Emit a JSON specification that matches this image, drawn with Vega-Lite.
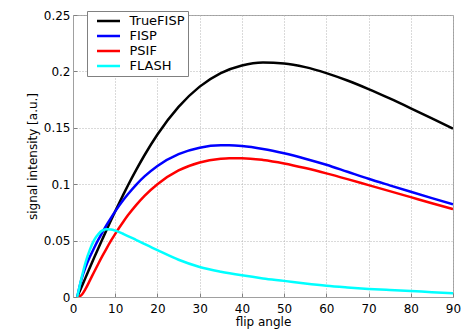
{
  "$schema": "https://vega.github.io/schema/vega-lite/v6.json",
  "width": 380,
  "height": 282,
  "autosize": "none",
  "padding": {"left": 73, "top": 15, "right": 21, "bottom": 34},
  "background": "white",
  "config": {
    "view": {"stroke": "#a0a0a0", "strokeWidth": 1},
    "font": "DejaVu Sans",
    "axis": {
      "labelFont": "DejaVu Sans",
      "labelFontSize": 12,
      "labelColor": "#000000",
      "titleFont": "DejaVu Sans",
      "titleFontSize": 12,
      "titleFontWeight": "normal",
      "titleColor": "#000000",
      "domainColor": "#a0a0a0",
      "gridColor": "#b4b4b4",
      "gridDash": [1, 2],
      "gridWidth": 1,
      "ticks": true,
      "tickSize": -4,
      "tickColor": "#808080",
      "labelFlush": false
    }
  },
  "data": {
    "values": [
      {"angle": 1, "signal": 0, "seq": "TrueFISP"},
      {"angle": 2, "signal": 0.0087, "seq": "TrueFISP"},
      {"angle": 3, "signal": 0.0174, "seq": "TrueFISP"},
      {"angle": 4, "signal": 0.0261, "seq": "TrueFISP"},
      {"angle": 5, "signal": 0.0347, "seq": "TrueFISP"},
      {"angle": 6, "signal": 0.0432, "seq": "TrueFISP"},
      {"angle": 7, "signal": 0.0516, "seq": "TrueFISP"},
      {"angle": 8, "signal": 0.0599, "seq": "TrueFISP"},
      {"angle": 9, "signal": 0.0680, "seq": "TrueFISP"},
      {"angle": 10, "signal": 0.0760, "seq": "TrueFISP"},
      {"angle": 11, "signal": 0.0838, "seq": "TrueFISP"},
      {"angle": 12, "signal": 0.0914, "seq": "TrueFISP"},
      {"angle": 13, "signal": 0.0988, "seq": "TrueFISP"},
      {"angle": 15, "signal": 0.1129, "seq": "TrueFISP"},
      {"angle": 17, "signal": 0.1261, "seq": "TrueFISP"},
      {"angle": 20, "signal": 0.1440, "seq": "TrueFISP"},
      {"angle": 25, "signal": 0.1685, "seq": "TrueFISP"},
      {"angle": 30, "signal": 0.1865, "seq": "TrueFISP"},
      {"angle": 35, "signal": 0.1985, "seq": "TrueFISP"},
      {"angle": 40, "signal": 0.2053, "seq": "TrueFISP"},
      {"angle": 45, "signal": 0.2079, "seq": "TrueFISP"},
      {"angle": 50, "signal": 0.2071, "seq": "TrueFISP"},
      {"angle": 55, "signal": 0.2038, "seq": "TrueFISP"},
      {"angle": 60, "signal": 0.1985, "seq": "TrueFISP"},
      {"angle": 65, "signal": 0.1919, "seq": "TrueFISP"},
      {"angle": 70, "signal": 0.1843, "seq": "TrueFISP"},
      {"angle": 75, "signal": 0.1760, "seq": "TrueFISP"},
      {"angle": 80, "signal": 0.1673, "seq": "TrueFISP"},
      {"angle": 85, "signal": 0.1584, "seq": "TrueFISP"},
      {"angle": 90, "signal": 0.1493, "seq": "TrueFISP"},

      {"angle": 1, "signal": 0, "seq": "FISP"},
      {"angle": 2, "signal": 0.0157, "seq": "FISP"},
      {"angle": 3, "signal": 0.0267, "seq": "FISP"},
      {"angle": 4, "signal": 0.0356, "seq": "FISP"},
      {"angle": 5, "signal": 0.0435, "seq": "FISP"},
      {"angle": 6, "signal": 0.0508, "seq": "FISP"},
      {"angle": 7, "signal": 0.0576, "seq": "FISP"},
      {"angle": 8, "signal": 0.0641, "seq": "FISP"},
      {"angle": 9, "signal": 0.0702, "seq": "FISP"},
      {"angle": 10, "signal": 0.0759, "seq": "FISP"},
      {"angle": 12, "signal": 0.0864, "seq": "FISP"},
      {"angle": 13, "signal": 0.0911, "seq": "FISP"},
      {"angle": 15, "signal": 0.0997, "seq": "FISP"},
      {"angle": 17, "signal": 0.1071, "seq": "FISP"},
      {"angle": 20, "signal": 0.1162, "seq": "FISP"},
      {"angle": 25, "signal": 0.1267, "seq": "FISP"},
      {"angle": 30, "signal": 0.1324, "seq": "FISP"},
      {"angle": 35, "signal": 0.1345, "seq": "FISP"},
      {"angle": 37, "signal": 0.1345, "seq": "FISP"},
      {"angle": 40, "signal": 0.1339, "seq": "FISP"},
      {"angle": 45, "signal": 0.1313, "seq": "FISP"},
      {"angle": 50, "signal": 0.1274, "seq": "FISP"},
      {"angle": 55, "signal": 0.1226, "seq": "FISP"},
      {"angle": 60, "signal": 0.1172, "seq": "FISP"},
      {"angle": 65, "signal": 0.1110, "seq": "FISP"},
      {"angle": 70, "signal": 0.1048, "seq": "FISP"},
      {"angle": 75, "signal": 0.0990, "seq": "FISP"},
      {"angle": 80, "signal": 0.0933, "seq": "FISP"},
      {"angle": 85, "signal": 0.0877, "seq": "FISP"},
      {"angle": 90, "signal": 0.0822, "seq": "FISP"},

      {"angle": 1, "signal": 0, "seq": "PSIF"},
      {"angle": 2, "signal": 0.0017, "seq": "PSIF"},
      {"angle": 3, "signal": 0.0074, "seq": "PSIF"},
      {"angle": 4, "signal": 0.0147, "seq": "PSIF"},
      {"angle": 5, "signal": 0.0222, "seq": "PSIF"},
      {"angle": 6, "signal": 0.0295, "seq": "PSIF"},
      {"angle": 7, "signal": 0.0366, "seq": "PSIF"},
      {"angle": 8, "signal": 0.0434, "seq": "PSIF"},
      {"angle": 9, "signal": 0.0499, "seq": "PSIF"},
      {"angle": 10, "signal": 0.0560, "seq": "PSIF"},
      {"angle": 12, "signal": 0.0672, "seq": "PSIF"},
      {"angle": 13, "signal": 0.0724, "seq": "PSIF"},
      {"angle": 15, "signal": 0.0817, "seq": "PSIF"},
      {"angle": 17, "signal": 0.0899, "seq": "PSIF"},
      {"angle": 20, "signal": 0.1000, "seq": "PSIF"},
      {"angle": 25, "signal": 0.1122, "seq": "PSIF"},
      {"angle": 30, "signal": 0.1193, "seq": "PSIF"},
      {"angle": 35, "signal": 0.1226, "seq": "PSIF"},
      {"angle": 37, "signal": 0.1231, "seq": "PSIF"},
      {"angle": 40, "signal": 0.1231, "seq": "PSIF"},
      {"angle": 45, "signal": 0.1215, "seq": "PSIF"},
      {"angle": 50, "signal": 0.1184, "seq": "PSIF"},
      {"angle": 55, "signal": 0.1143, "seq": "PSIF"},
      {"angle": 60, "signal": 0.1096, "seq": "PSIF"},
      {"angle": 65, "signal": 0.1045, "seq": "PSIF"},
      {"angle": 70, "signal": 0.0992, "seq": "PSIF"},
      {"angle": 75, "signal": 0.0939, "seq": "PSIF"},
      {"angle": 80, "signal": 0.0885, "seq": "PSIF"},
      {"angle": 85, "signal": 0.0831, "seq": "PSIF"},
      {"angle": 90, "signal": 0.0779, "seq": "PSIF"},

      {"angle": 1, "signal": 0, "seq": "FLASH"},
      {"angle": 2, "signal": 0.0165, "seq": "FLASH"},
      {"angle": 3, "signal": 0.0310, "seq": "FLASH"},
      {"angle": 4, "signal": 0.0420, "seq": "FLASH"},
      {"angle": 5, "signal": 0.0505, "seq": "FLASH"},
      {"angle": 6, "signal": 0.0558, "seq": "FLASH"},
      {"angle": 7, "signal": 0.0590, "seq": "FLASH"},
      {"angle": 8, "signal": 0.0601, "seq": "FLASH"},
      {"angle": 9, "signal": 0.0598, "seq": "FLASH"},
      {"angle": 10, "signal": 0.0588, "seq": "FLASH"},
      {"angle": 12, "signal": 0.0558, "seq": "FLASH"},
      {"angle": 15, "signal": 0.0505, "seq": "FLASH"},
      {"angle": 20, "signal": 0.0415, "seq": "FLASH"},
      {"angle": 25, "signal": 0.0330, "seq": "FLASH"},
      {"angle": 30, "signal": 0.0266, "seq": "FLASH"},
      {"angle": 35, "signal": 0.0224, "seq": "FLASH"},
      {"angle": 40, "signal": 0.0192, "seq": "FLASH"},
      {"angle": 45, "signal": 0.0165, "seq": "FLASH"},
      {"angle": 50, "signal": 0.0143, "seq": "FLASH"},
      {"angle": 55, "signal": 0.0120, "seq": "FLASH"},
      {"angle": 60, "signal": 0.0100, "seq": "FLASH"},
      {"angle": 65, "signal": 0.0085, "seq": "FLASH"},
      {"angle": 70, "signal": 0.0072, "seq": "FLASH"},
      {"angle": 75, "signal": 0.0062, "seq": "FLASH"},
      {"angle": 80, "signal": 0.0053, "seq": "FLASH"},
      {"angle": 85, "signal": 0.0043, "seq": "FLASH"},
      {"angle": 90, "signal": 0.0034, "seq": "FLASH"}
    ]
  },
  "mark": {"type": "line", "strokeWidth": 2.5, "interpolate": "monotone", "clip": true},
  "encoding": {
    "x": {
      "field": "angle",
      "type": "quantitative",
      "scale": {"domain": [0, 90], "nice": false, "zero": false},
      "axis": {
        "values": [0, 10, 20, 30, 40, 50, 60, 70, 80, 90],
        "title": "flip angle",
        "labelPadding": 10,
        "titlePadding": 2
      }
    },
    "y": {
      "field": "signal",
      "type": "quantitative",
      "scale": {"domain": [0, 0.25], "nice": false},
      "axis": {
        "values": [0, 0.05, 0.1, 0.15, 0.2, 0.25],
        "format": "~g",
        "title": "signal intensity [a.u.]",
        "labelPadding": 7,
        "titlePadding": 4
      }
    },
    "color": {
      "field": "seq",
      "type": "nominal",
      "sort": ["TrueFISP", "FISP", "PSIF", "FLASH"],
      "scale": {
        "domain": ["TrueFISP", "FISP", "PSIF", "FLASH"],
        "range": ["#000000", "#0000ff", "#ff0000", "#00ffff"]
      },
      "legend": {
        "title": null,
        "orient": "none",
        "legendX": 14,
        "legendY": -4,
        "fillColor": "white",
        "strokeColor": "#808080",
        "padding": 2.5,
        "clipHeight": 15,
        "symbolOffset": 6,
        "symbolType": "stroke",
        "symbolSize": 529,
        "symbolStrokeWidth": 2.5,
        "labelFont": "DejaVu Sans",
        "labelFontSize": 13,
        "labelColor": "#000000",
        "labelOffset": 8,
        "labelExpr": "datum.label + '  '",
        "rowPadding": 0
      }
    }
  }
}
